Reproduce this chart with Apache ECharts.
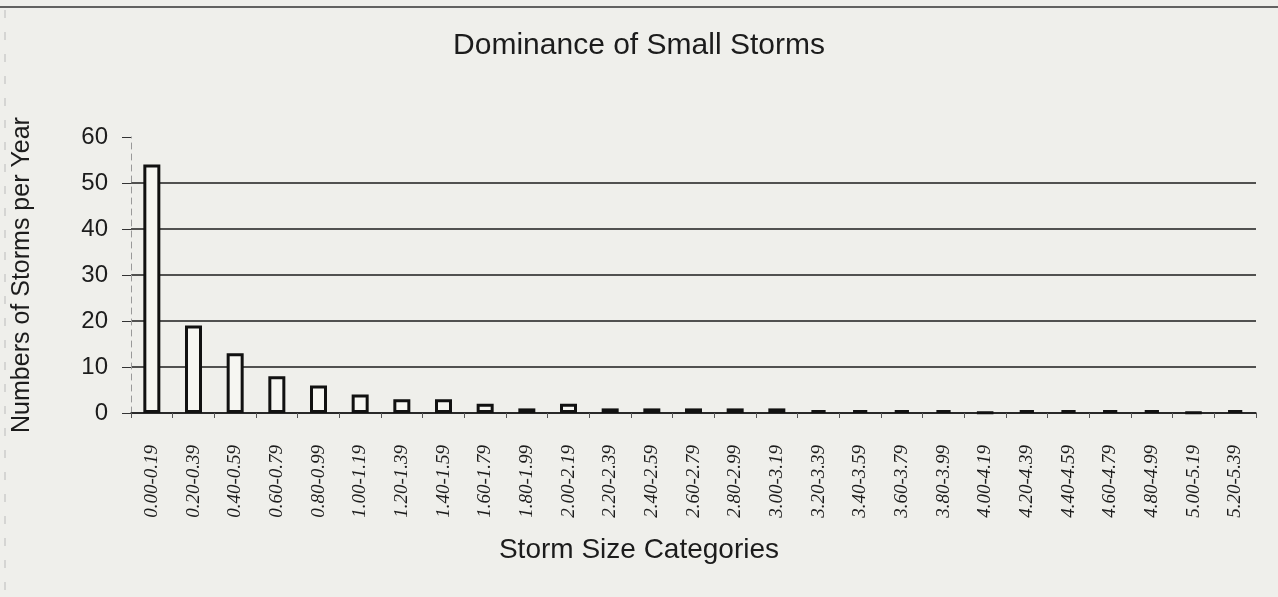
<!DOCTYPE html>
<html>
<head>
<meta charset="utf-8">
<script src="https://cdn.jsdelivr.net/npm/echarts@6/dist/echarts.min.js"></script>
<style>
  html, body { margin: 0; padding: 0; background: #efefeb; }
  #chart { width: 1278px; height: 597px; }
</style>
</head>
<body>
<div id="chart"></div>
<script>
  // storm size bins (inches)
  const categories = [
    '0.00-0.19', '0.20-0.39', '0.40-0.59', '0.60-0.79', '0.80-0.99',
    '1.00-1.19', '1.20-1.39', '1.40-1.59', '1.60-1.79', '1.80-1.99',
    '2.00-2.19', '2.20-2.39', '2.40-2.59', '2.60-2.79', '2.80-2.99',
    '3.00-3.19', '3.20-3.39', '3.40-3.59', '3.60-3.79', '3.80-3.99',
    '4.00-4.19', '4.20-4.39', '4.40-4.59', '4.60-4.79', '4.80-4.99',
    '5.00-5.19', '5.20-5.39'
  ];
  // storms per year
  const stormsPerYear = [
    54, 19, 13, 8, 6,
    4, 3, 3, 2, 1,
    2, 1, 1, 1, 1,
    1, 0.6, 0.6, 0.6, 0.6,
    0.1, 0.6, 0.6, 0.6, 0.6,
    0.1, 0.6
  ];
  const yTicks = [0, 10, 20, 30, 40, 50, 60];

  const ink = '#1c1c1c';
  const chart = echarts.init(document.getElementById('chart'));

  const option = {
    backgroundColor: '#efefeb',
    animation: false,
    title: [
      {
        text: 'Dominance of Small Storms',
        left: 'center',
        top: 26,
        textStyle: { fontFamily: 'Liberation Sans', fontSize: 30, fontWeight: 'normal', color: ink }
      },
      {
        // x axis title sits centred on the page, not on the plot
        text: 'Storm Size Categories',
        left: 'center',
        top: 531,
        textStyle: { fontFamily: 'Liberation Sans', fontSize: 28, fontWeight: 'normal', color: ink }
      }
    ],
    graphic: [
      { type: 'line', shape: { x1: 0, y1: 7, x2: 1278, y2: 7 }, style: { stroke: '#333', lineWidth: 1.5 } },
      { type: 'line', shape: { x1: 5, y1: 10, x2: 5, y2: 597 }, style: { stroke: '#bbb', lineWidth: 1, lineDash: [8, 14] } }
    ],
    grid: { left: 131, right: 22, top: 137, bottom: 184 },
    xAxis: {
      type: 'category',
      data: categories,
      axisLine: { lineStyle: { color: ink, width: 1.5 } },
      axisTick: { show: true, length: 5, lineStyle: { color: '#555' } },
      axisLabel: {
        rotate: 90,
        margin: 32,
        fontFamily: 'Liberation Serif',
        fontStyle: 'italic',
        fontSize: 19,
        color: ink
      }
    },
    yAxis: {
      type: 'value',
      min: 0,
      max: 60,
      interval: 10,
      name: 'Numbers of Storms per Year',
      nameLocation: 'middle',
      nameGap: 96,
      nameTextStyle: { fontFamily: 'Liberation Sans', fontSize: 25, color: ink },
      axisLine: { show: true, lineStyle: { color: '#999', width: 1, type: [6, 5] } },
      axisTick: { show: true, length: 9, lineStyle: { color: '#333' } },
      axisLabel: {
        margin: 23,
        fontFamily: 'Liberation Sans',
        fontSize: 24,
        color: ink,
        formatter: v => (yTicks.includes(v) ? String(v) : '')
      },
      splitLine: {
        show: true,
        lineStyle: {
          width: 1.5,
          color: [ink, ink, ink, ink, ink, ink, 'rgba(0,0,0,0)']
        }
      }
    },
    series: [
      {
        type: 'bar',
        data: stormsPerYear,
        barWidth: 17,
        itemStyle: { color: '#f6f6f2', borderColor: '#111', borderWidth: 3 }
      }
    ]
  };

  chart.setOption(option);
</script>
</body>
</html>
